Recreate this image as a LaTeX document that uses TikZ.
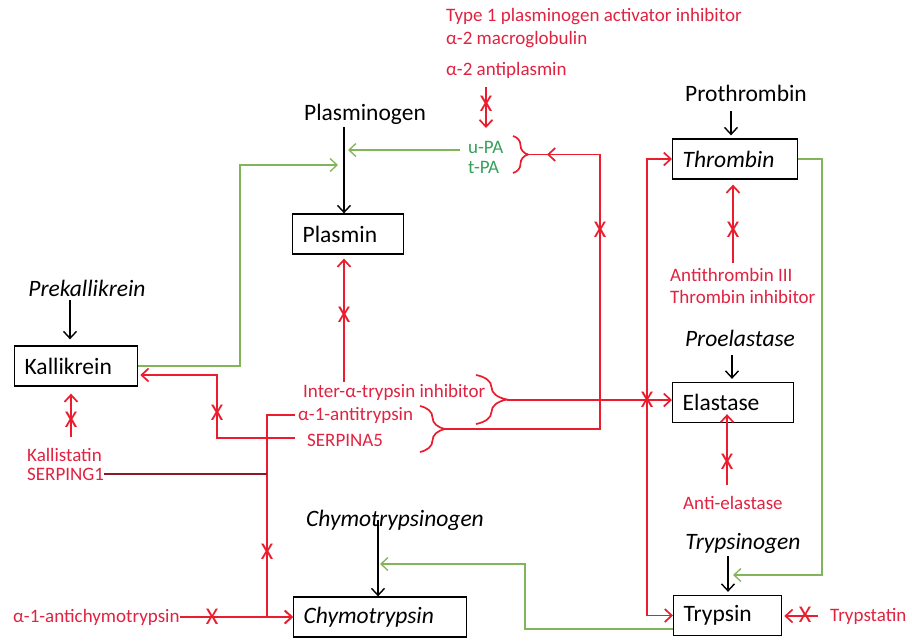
\documentclass[tikz,border=0pt]{standalone}
\usepackage{fontspec}
\setmainfont{Carlito}
\usetikzlibrary{arrows.meta,decorations.pathreplacing,calc}
\definecolor{rd}{RGB}{235,28,45}
\definecolor{rdtext}{RGB}{225,35,65}
\definecolor{gr}{RGB}{130,180,90}
\definecolor{grtext}{RGB}{55,160,90}
\definecolor{dkred}{RGB}{140,25,40}
\begin{document}
\begin{tikzpicture}[x=1pt,y=-1pt,
  blk/.style={font=\fontsize{23.5}{27}\selectfont, inner sep=0pt},
  blkit/.style={font=\fontsize{23.5}{27}\selectfont\itshape, inner sep=0pt},
  redlbl/.style={font=\fontsize{19}{23}\selectfont, text=rdtext, inner sep=0pt, anchor=west},
  grlbl/.style={font=\fontsize{19}{23}\selectfont, text=grtext, inner sep=0pt, anchor=west},
  box/.style={draw, line width=1.3pt, minimum height=40pt, inner xsep=10pt, inner ysep=0pt,
    text width=#1, align=left, anchor=west, font=\fontsize{23.5}{27}\selectfont},
  boxit/.style={box=#1, font=\fontsize{23.5}{27}\selectfont\itshape},
  arr/.style={-{Straight Barb[length=7pt,width=13pt]}},
  rline/.style={draw=rd, line width=1.7pt},
  gline/.style={draw=gr, line width=1.3pt},
  bline/.style={draw=black, line width=1.4pt},
  dkline/.style={draw=dkred, line width=1.4pt},
  xmark/.style={text=rd, font=\fontsize{24}{24}\selectfont, inner sep=0pt},
  brc/.style={rline, decorate, decoration={brace, amplitude=#1}},
]
\path[fill=white, use as bounding box] (0,0) rectangle (912,641);

% ---------- labels ----------
\node[redlbl] (pai) at (446,17) {Type 1 plasminogen activator inhibitor};
\node[redlbl] (a2m) at (446,40) {α-2 macroglobulin};
\node[redlbl] (a2ap) at (446,70) {α-2 antiplasmin};
\node[blk] (plg) at (365,114) {Plasminogen};
\node[grlbl] (upa) at (468,147) {u-PA};
\node[grlbl] (tpa) at (468,167) {t-PA};
\node[box=91pt] (plasmin) at (292,234) {Plasmin};
\node[blkit] (prek) at (87,288) {Prekallikrein};
\node[box=103pt] (kall) at (14,366) {Kallikrein};
\node[redlbl] (kst) at (27,455) {Kallistatin};
\node[redlbl] (sg1) at (27,474) {SERPING1};
\node[redlbl] (iti) at (303,392) {Inter-α-trypsin inhibitor};
\node[redlbl] (a1at) at (298,415) {α-1-antitrypsin};
\node[redlbl] (sa5) at (307,440) {SERPINA5};
\node[blk] (proth) at (746,93) {Prothrombin};
\node[boxit=105pt] (thr) at (672,159) {Thrombin};
\node[redlbl] (at3) at (670,275) {Antithrombin III};
\node[redlbl] (thi) at (670,297) {Thrombin inhibitor};
\node[blkit] (proe) at (740,338) {Proelastase};
\node[box=101pt] (ela) at (672,402.5) {Elastase};
\node[redlbl] (ael) at (683,503) {Anti-elastase};
\node[blkit] (tgen) at (743,543) {Trypsinogen};
\node[box=88pt] (try) at (673,615.5) {Trypsin};
\node[redlbl] (tst) at (830,616) {Trypstatin};
\node[blkit] (chg) at (395,520) {Chymotrypsinogen};
\node[boxit=153pt] (chy) at (293,617) {Chymotrypsin};
\node[redlbl] (a1act) at (13,617) {α-1-antichymotrypsin};

% ---------- helper coordinates ----------
\coordinate (xpl) at (344,0);
\coordinate (xk) at (71,0);
\coordinate (xpk) at (70,0);
\coordinate (xpt) at (731,0);
\coordinate (xth) at (733,0);
\coordinate (xpe) at (732,0);
\coordinate (xel) at (727,0);
\coordinate (xtg) at (728,0);
\coordinate (xch) at (378,0);
\coordinate (xa) at (486,128);
\coordinate (g1) at (348,150);
\coordinate (g2) at (338,165);
\coordinate (gk) at (240,165);
\coordinate (gt1) at (822,575);
\coordinate (gt2) at (733,575);
\coordinate (gc1) at (525,629);
\coordinate (gc2) at (380,564);
\coordinate (ubt) at (528,154.5);
\coordinate (ibt) at (507,400);
\coordinate (abt) at (445,429);
\coordinate (c1) at (600,154.5);
\coordinate (c2) at (600,429);
\coordinate (s2) at (217,375);
\coordinate (a1) at (267,415);
\coordinate (vr) at (647,0);

% ---------- braces ----------
\draw[brc=15pt] (513,136) -- (513,173);
\draw[brc=31pt] (476,375) -- (476,424);
\draw[brc=25pt] (420,406) -- (420,452);

% ---------- black arrows ----------
\draw[bline,arr,shorten <=3pt] (plg.south -| xpl) -- (plasmin.north -| xpl);
\draw[bline,arr,shorten <=4pt,shorten >=6pt] (prek.south -| xpk) -- (kall.north -| xpk);
\draw[bline,arr,shorten <=10pt,shorten >=3pt] (proth.south -| xpt) -- (thr.north -| xpt);
\draw[bline,arr,shorten <=9pt,shorten >=3pt] (proe.south -| xpe) -- (ela.north -| xpe);
\draw[bline,arr,shorten <=3pt,shorten >=3pt] (tgen.south -| xtg) -- (try.north -| xtg);
\draw[bline,arr] (chg.center -| xch) -- (chy.north -| xch);

% ---------- green arrows ----------
\draw[gline,arr,shorten <=8pt] (upa.west |- g1) -- (g1);
\draw[gline,arr] (kall.east) -| (gk) -- (g2);
\draw[gline,arr] (thr.east) -| (gt1) -- (gt2);
\draw[gline,arr] (try.west |- gc1) -- (gc1) |- (gc2);

% ---------- red connectors ----------
\draw[rline,arr,shorten <=9pt] (a2ap.south -| xa) -- (xa);
\draw[rline] (ubt) -- (c1) -- (c2) -- (abt);
\draw[rline,arr] (c1) -- ($(ubt)+(19,0)$);
\draw[rline,arr] (ibt) -- (ela.west |- ibt);
\draw[rline,{Straight Barb[length=7pt,width=13pt]}-{Straight Barb[length=7pt,width=13pt]}]
  (thr.west) -| (vr |- try.west) -- (try.west);
\draw[rline,arr,shorten <=2pt,shorten >=4pt] (iti.north -| xpl) -- (plasmin.south -| xpl);
\draw[rline,arr,shorten <=12pt,shorten >=2pt] (sa5.west |- 0,438) -| (s2) -- (kall.east |- s2);
\draw[rline,arr,shorten <=3pt] (a1at.west) -| (chy.west -| a1) -- (chy.west);
\draw[dkline] (sg1.east) -- (sg1.east -| a1);
\draw[rline,arr] (a1act.east) -- (chy.west);
\draw[rline,arr,shorten <=11pt,shorten >=7pt] (kst.north -| xk) -- (kall.south -| xk);
\draw[rline,arr,shorten <=5pt,shorten >=5pt] (at3.north -| xth) -- (thr.south -| xth);
\draw[rline,arr,shorten <=11pt,shorten >=-9pt] (ael.north -| xel) -- (ela.south -| xel);
\draw[rline,arr,shorten <=12pt,shorten >=2pt] (tst.west) -- (try.east |- tst.west);

% ---------- X marks ----------
\node[xmark] (x1) at (486,104) {X};
\node[xmark] (x2) at (600,230) {X};
\node[xmark] (x3) at (344,315) {X};
\node[xmark] (x4) at (71,420) {X};
\node[xmark] (x5) at (217,413) {X};
\node[xmark] (x6) at (647,400) {X};
\node[xmark] (x7) at (733,230) {X};
\node[xmark] (x8) at (727,462) {X};
\node[xmark] (x9) at (267,552) {X};
\node[xmark] (x10) at (212,617) {X};
\node[xmark] (x11) at (805,615) {X};
\end{tikzpicture}
\end{document}
